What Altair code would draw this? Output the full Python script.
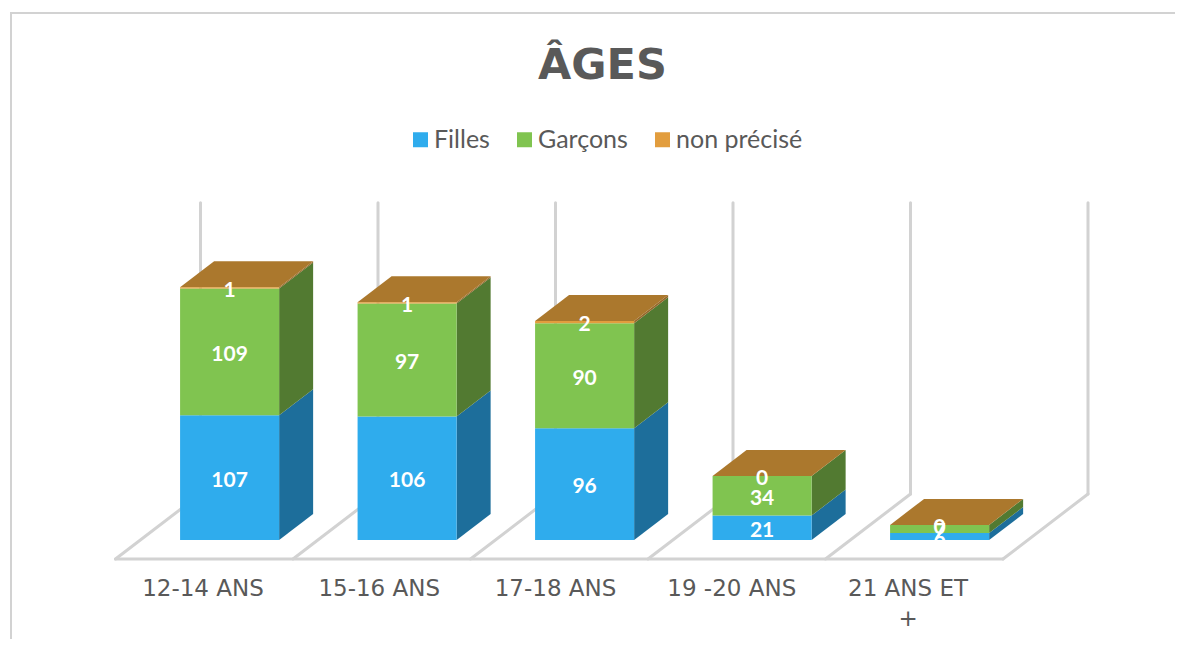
import altair as alt
import pandas as pd

categories = ["12-14 ANS", "15-16 ANS", "17-18 ANS", "19 -20 ANS", "21 ANS ET\n+"]
filles = [107, 106, 96, 21, 6]
garcons = [109, 97, 90, 34, 7]
non_precise = [1, 1, 2, 0, 0]
series_names = ["Filles", "Garçons", "non précisé"]
front_colors = ["#2FACED", "#80C450", "#E29D3E"]
side_colors = ["#1D6E9B", "#527A31", "#96682A"]
top_color = "#AB782D"
wall_color = "#D2D2D2"
text_color = "#595959"

# Oblique projection of the 3D chart: depth d in 0..1 shifts x (slots) and y (value units)
SLOT_PX, UNIT_PX = 177.5, 1.165
DEPTH_X = 85 / SLOT_PX
DEPTH_Y = 65 / UNIT_PX
AXIS_MAX = 250
BAR_L, BAR_R = 0.224, 0.782
D_FRONT, D_BACK = 0.292, 0.692
W, H = 1167, 631
x_domain = [(8 - 115.5) / SLOT_PX, (1175 - 115.5) / SLOT_PX]
y_domain = [(559 - 639) / UNIT_PX, (559 - 8) / UNIT_PX]


def px(u, d):
    return u + d * DEPTH_X


def py(v, d):
    return v + d * DEPTH_Y


values = [filles, garcons, non_precise]
front, side, top, labels = [], [], [], []
for i in range(len(categories)):
    base = 0
    for s, name in enumerate(series_names):
        v = values[s][i]
        t = base + v
        front.append({"series": name, "x": px(i + BAR_L, D_FRONT), "x2": px(i + BAR_R, D_FRONT),
                      "y": py(base, D_FRONT), "y2": py(t, D_FRONT)})
        for d in (D_FRONT, D_BACK):
            side.append({"series": name, "bar": i, "x": px(i + BAR_R, d), "y": py(base, d), "y2": py(t, d)})
        labels.append({"x": px(i + (BAR_L + BAR_R) / 2, D_FRONT), "y": py(base + v / 2, D_FRONT), "text": str(v)})
        base = t
    for d in (D_FRONT, D_BACK):
        top.append({"bar": i, "y": py(base, d), "x": px(i + BAR_L, d), "x2": px(i + BAR_R, d)})

walls, cat_labels = [], []
for i in range(len(categories) + 1):
    walls.append({"x": px(i, 1), "x2": px(i, 1), "y": py(0, 1), "y2": py(AXIS_MAX, 1)})
    walls.append({"x": px(i, 0), "x2": px(i, 1), "y": py(0, 0), "y2": py(0, 1)})
walls.append({"x": px(0, 0), "x2": px(len(categories), 0), "y": py(0, 0), "y2": py(0, 0)})
for i, c in enumerate(categories):
    cat_labels.append({"x": 0.993 * i + 0.493, "y": -26, "text": c})

X = alt.X("x:Q", scale=alt.Scale(domain=x_domain, nice=False, zero=False), axis=None)
Y = alt.Y("y:Q", scale=alt.Scale(domain=y_domain, nice=False, zero=False), axis=None)

frame = pd.DataFrame({"k": [0]})
frame_top = alt.Chart(frame).mark_rule(color=wall_color, strokeWidth=2).encode(
    x=alt.value(2), x2=alt.value(W), y=alt.value(5))
frame_left = alt.Chart(frame).mark_rule(color=wall_color, strokeWidth=2).encode(
    x=alt.value(3), y=alt.value(4), y2=alt.value(H))

wall_layer = alt.Chart(pd.DataFrame(walls)).mark_rule(color=wall_color, strokeWidth=3, strokeCap="round").encode(
    x=X, x2="x2:Q", y=Y, y2="y2:Q")

front_df = pd.DataFrame(front)
side_df = pd.DataFrame(side)
front_layer = alt.Chart(front_df).mark_rect().encode(
    x=X, x2="x2:Q", y=Y, y2="y2:Q",
    color=alt.Color("series:N",
                    scale=alt.Scale(domain=series_names, range=front_colors),
                    legend=alt.Legend(title=None, orient="none", direction="horizontal",
                                      legendX=400, legendY=119, symbolType="square",
                                      symbolSize=225, symbolStrokeWidth=0, labelFontSize=25,
                                      labelFont="Lato", labelColor=text_color, columnPadding=22,
                                      labelOffset=1)))

side_layers = [
    alt.Chart(side_df[side_df["series"] == n]).mark_area(color=c).encode(
        x=X, y=Y, y2="y2:Q", detail="bar:N")
    for n, c in zip(series_names, side_colors)
]
top_layer = alt.Chart(pd.DataFrame(top)).mark_area(color=top_color, orient="horizontal").encode(
    y=Y, x=X, x2="x2:Q", detail="bar:N")

label_layer = alt.Chart(pd.DataFrame(labels)).mark_text(
    color="white", font="Lato", fontSize=21, fontWeight="bold", baseline="middle", dy=3).encode(
    x=X, y=Y, text="text:N")

cat_layer = alt.Chart(pd.DataFrame(cat_labels)).mark_text(
    color=text_color, font="DejaVu Sans", fontSize=23, lineBreak="\n", baseline="middle", lineHeight=30).encode(
    x=X, y=Y, text="text:N")

chart = alt.layer(frame_top, frame_left, wall_layer, *side_layers, top_layer, front_layer,
                  label_layer, cat_layer).properties(
    width=W, height=H,
    padding=0,
    autosize=alt.AutoSizeParams(type="none"),
    title=alt.TitleParams("ÂGES", font="DejaVu Sans", fontSize=43, fontWeight="bold",
                          color=text_color, anchor="middle", dx=11, dy=80, offset=0),
).configure_view(stroke=None)

chart.save("out.html", embed_options={"renderer": "svg", "actions": False})
